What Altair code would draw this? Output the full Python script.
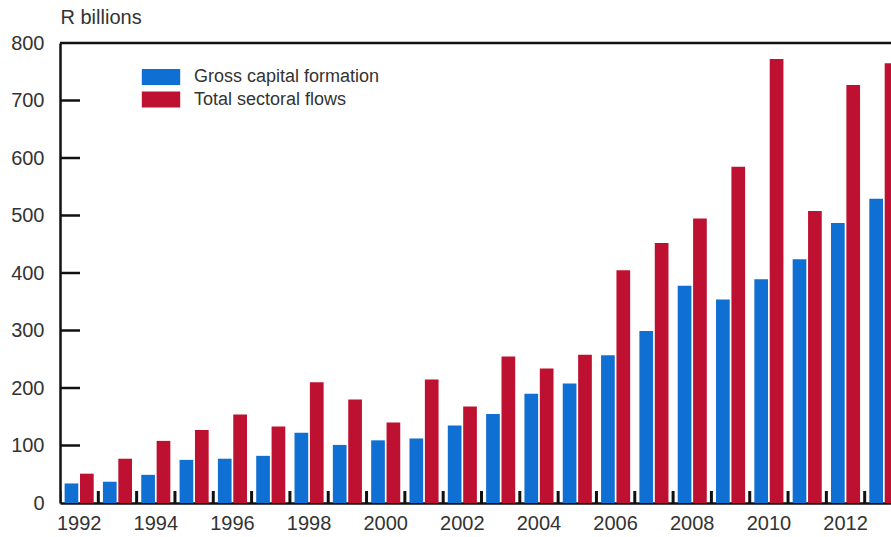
import altair as alt
import pandas as pd

# Annual values, R billions
years = list(range(1992, 2014))
gross_capital_formation = [34, 37, 49, 75, 77, 82, 122, 101, 109, 112, 135, 155,
                           190, 208, 257, 299, 378, 354, 389, 424, 487, 529]
total_sectoral_flows = [51, 77, 108, 127, 154, 133, 210, 180, 140, 215, 168, 255,
                        234, 258, 405, 452, 495, 585, 772, 508, 727, 765]

series_names = ["Gross capital formation", "Total sectoral flows"]
series_colors = ["#0f6fd2", "#be1030"]
y_tick_values = [0, 100, 200, 300, 400, 500, 600, 700, 800]
inner_ticks = [100, 200, 300, 400, 500, 600, 700]
label_years = [y for y in years if y % 2 == 0]

rows = []
for yr, g, t in zip(years, gross_capital_formation, total_sectoral_flows):
    rows.append({"year": yr, "series": series_names[0], "value": g})
    rows.append({"year": yr, "series": series_names[1], "value": t})
df = pd.DataFrame(rows)

W, H = 831, 460
FONT = "Liberation Sans"
TEXT = "#333333"

x_scale = alt.Scale(domain=years, range=[0, 843], paddingInner=0, paddingOuter=0)
y_scale = alt.Scale(domain=[0, 800], nice=False)

bars = alt.Chart(df).mark_bar(clip=True).encode(
    x=alt.X("year:O", scale=x_scale,
            axis=alt.Axis(values=label_years, title=None, ticks=False, tickSize=0,
                          domain=True, domainColor="#111111", domainWidth=2.5,
                          labelAngle=0, labelPadding=10, labelFontSize=20,
                          labelFont=FONT, labelColor=TEXT, grid=False)),
    xOffset=alt.XOffset("series:N", sort=series_names,
                        scale=alt.Scale(paddingInner=0.11, paddingOuter=0.3)),
    y=alt.Y("value:Q", scale=y_scale,
            axis=alt.Axis(values=y_tick_values, ticks=False, tickSize=0,
                          domainColor="#111111", domainWidth=2.5,
                          labelPadding=16, labelFontSize=20, labelFont=FONT,
                          labelColor=TEXT, grid=False,
                          title="R billions", titleAngle=0, titleAlign="left",
                          titleBaseline="middle", titleX=0, titleY=-26,
                          titleFont=FONT, titleFontSize=20,
                          titleFontWeight="normal", titleColor=TEXT)),
    color=alt.Color("series:N",
                    scale=alt.Scale(domain=series_names, range=series_colors),
                    legend=alt.Legend(title=None, orient="none",
                                      legendX=92, legendY=25, padding=0,
                                      symbolType="M-2.4,-1H2.4V1H-2.4Z",
                                      symbolSize=256, symbolStrokeWidth=0,
                                      symbolOpacity=1,
                                      labelFont=FONT, labelFontSize=18,
                                      labelColor=TEXT, labelOffset=24,
                                      labelLimit=0, rowPadding=4.5)),
)

# inward ticks on the value axis
y_ticks = alt.Chart(pd.DataFrame({"tick": inner_ticks})).mark_rule(
    color="#111111", strokeWidth=2.5
).encode(
    y=alt.Y("tick:Q", scale=y_scale),
    x=alt.value(0),
    x2=alt.value(20),
)

# short upward ticks on the baseline, between year groups
x_ticks = alt.Chart(pd.DataFrame({"year": years})).mark_rule(
    color="#111111", strokeWidth=3, clip=True
).encode(
    x=alt.X("year:O", bandPosition=0),
    y=alt.value(H - 12),
    y2=alt.value(H),
)

# frame line along the top of the plot
top_line = alt.Chart(pd.DataFrame({"v": [800]})).mark_rule(
    color="#111111", strokeWidth=2.5
).encode(y=alt.Y("v:Q", scale=y_scale))

chart = alt.layer(bars, y_ticks, x_ticks, top_line).properties(
    width=W, height=H,
    autosize=alt.AutoSizeParams(type="none"),
    padding={"left": 60, "top": 43, "right": 0, "bottom": 34},
    background="white",
).configure_view(stroke=None)

chart.save("out.html", embed_options={"renderer": "svg", "actions": False})
